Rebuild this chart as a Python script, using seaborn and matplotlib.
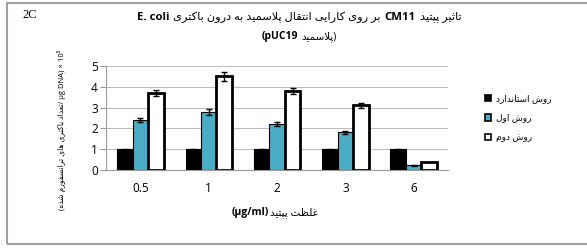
import numpy as np
import pandas as pd
import seaborn as sns
import matplotlib.pyplot as plt
from matplotlib.patches import Rectangle

# data
doses = ['0.5', '1', '2', '3', '6']
methods = ['روش استاندارد', 'روش اول', 'روش دوم']
standard = [1.0, 1.0, 1.0, 1.0, 1.0]
first = [2.4, 2.8, 2.2, 1.8, 0.22]
second = [3.7, 4.5, 3.8, 3.1, 0.38]
standard_err = [0.02, 0.02, 0.02, 0.02, 0.02]
first_err = [0.1, 0.15, 0.08, 0.07, 0.02]
second_err = [0.13, 0.2, 0.15, 0.12, 0.0]
colors = ['#000000', '#4BACC6', '#FFFFFF']

# minimal Persian shaping (matplotlib does no Arabic joining or bidi itself)
FORMS = {
    'ا': (0xFE8D, 2), 'ب': (0xFE8F, 4), 'ت': (0xFE95, 4), 'ث': (0xFE99, 4),
    'ج': (0xFE9D, 4), 'ح': (0xFEA1, 4), 'خ': (0xFEA5, 4), 'د': (0xFEA9, 2),
    'ذ': (0xFEAB, 2), 'ر': (0xFEAD, 2), 'ز': (0xFEAF, 2), 'س': (0xFEB1, 4),
    'ش': (0xFEB5, 4), 'ص': (0xFEB9, 4), 'ض': (0xFEBD, 4), 'ط': (0xFEC1, 4),
    'ظ': (0xFEC5, 4), 'ع': (0xFEC9, 4), 'غ': (0xFECD, 4), 'ف': (0xFED1, 4),
    'ق': (0xFED5, 4), 'ل': (0xFEDD, 4), 'م': (0xFEE1, 4), 'ن': (0xFEE5, 4),
    'ه': (0xFEE9, 4), 'و': (0xFEED, 2), 'پ': (0xFB56, 4), 'چ': (0xFB7A, 4),
    'ژ': (0xFB8A, 2), 'ک': (0xFB8E, 4), 'گ': (0xFB92, 4), 'ی': (0xFBFC, 4),
}


def shape(word):
    out = []
    i = 0
    prev_joins = False
    while i < len(word):
        c = word[i]
        if c not in FORMS:
            out.append(c)
            prev_joins = False
            i += 1
            continue
        if c == 'ل' and i + 1 < len(word) and word[i + 1] == 'ا':
            out.append(chr(0xFEFC if prev_joins else 0xFEFB))
            prev_joins = False
            i += 2
            continue
        base, n = FORMS[c]
        nxt = word[i + 1] if i + 1 < len(word) else ''
        next_joins = n == 4 and nxt in FORMS
        if prev_joins and next_joins:
            out.append(chr(base + 3))
        elif prev_joins:
            out.append(chr(base + 1))
        elif next_joins:
            out.append(chr(base + 2))
        else:
            out.append(chr(base))
        prev_joins = n == 4
        i += 1
    return ''.join(out)


def rtl(text):
    # visual order for a right-to-left run
    return ' '.join(shape(w)[::-1] for w in text.split(' ')[::-1])


def rich_text(fig, x, y, pieces, size, gap=3):
    # pieces of (text, weight) laid side by side, centred on (x, y) in pixels
    r = fig.canvas.get_renderer()
    texts = [fig.text(0, 0, s, fontweight=w, fontsize=size, va='center', ha='left')
             for s, w in pieces]
    ws = [t.get_window_extent(r).width for t in texts]
    total = sum(ws) + gap * (len(ws) - 1)
    left = x - total / 2
    W, H = fig.bbox.width, fig.bbox.height
    for t, w in zip(texts, ws):
        t.set_position((left / W, 1 - y / H))
        left += w + gap


plt.rcParams['font.family'] = ['Open Sans', 'DejaVu Sans']

labels = [rtl(m) for m in methods]
df = pd.DataFrame({
    'dose': doses * 3,
    'method': [labels[0]] * 5 + [labels[1]] * 5 + [labels[2]] * 5,
    'value': standard + first + second,
})

fig = plt.figure(figsize=(5.87, 2.48), dpi=100)
ax = fig.add_axes([0.181, 0.315, 0.582, 0.419])

sns.barplot(data=df, x='dose', y='value', hue='method', order=doses,
            hue_order=labels, palette=colors, width=0.68, errorbar=None,
            saturation=1, ax=ax)

errs = [standard_err, first_err, second_err]
widths = [0.8, 0.8, 2.0]
for cont, err, lw in zip(ax.containers, errs, widths):
    for bar, e in zip(cont, err):
        bar.set_edgecolor('black')
        bar.set_linewidth(lw)
        if e > 0:
            ax.errorbar(bar.get_x() + bar.get_width() / 2, bar.get_height(), yerr=e,
                        fmt='none', ecolor='black', elinewidth=1, capsize=2.2, capthick=1,
                        zorder=5)

ax.set_xlim(-0.5, len(doses) - 0.5)
ax.set_ylim(0, 5)
ax.set_yticks(range(6))
ax.grid(axis='y', color='#BDBDBD', lw=0.8)
ax.set_axisbelow(True)
for s in ['top', 'right']:
    ax.spines[s].set_visible(False)
ax.spines['left'].set_color('#9A9A9A')
ax.spines['bottom'].set_color('#9A9A9A')
ax.tick_params(axis='y', length=4, color='#9A9A9A', labelsize=8.5, pad=2)
ax.tick_params(axis='x', length=0, labelsize=8.5, pad=9)
ax.set_ylabel('')
ax.set_xlabel('')

leg = ax.legend(loc='upper left', bbox_to_anchor=(477 / 587, 1 - 86 / 248),
                bbox_transform=fig.transFigure, frameon=False, fontsize=6.5,
                handlelength=0.7, handleheight=0.7, handletextpad=0.5, labelspacing=1.15)
for h in leg.legend_handles:
    h.set_edgecolor('black')
    h.set_linewidth(1.2)

rich_text(fig, 299, 17, [('E. coli', 'bold'),
                         (rtl('بر روی کارایی انتقال پلاسمید به درون باکتری'), 'normal'),
                         ('CM11', 'bold'), (rtl('تاثیر پپتید'), 'normal')], 8.2, gap=4)
rich_text(fig, 299, 37, [('(pUC19', 'bold'), (rtl('پلاسمید') + ')', 'normal')], 7.5)
rich_text(fig, 275, 213, [('(µg/ml)', 'bold'), (rtl('غلظت پپتید'), 'normal')], 7.5, gap=1)

fig.text(62 / 587, 1 - 130 / 248,
         '(' + rtl('تعداد باکتری های ترانسفورم شده') + '/ μg DNA) × 10⁵',
         rotation=90, ha='center', va='center', fontsize=5.5)
fig.text(22 / 587, 1 - 15 / 248, '2C', family='Liberation Serif', fontsize=9,
         ha='left', va='center')

fig.patches.append(Rectangle((7 / 587, 4 / 248), 1.0, 1 - 7 / 248,
                             transform=fig.transFigure, fill=False,
                             edgecolor='#A0A0A0', lw=1.5))

fig.savefig('out.png', dpi=100)
